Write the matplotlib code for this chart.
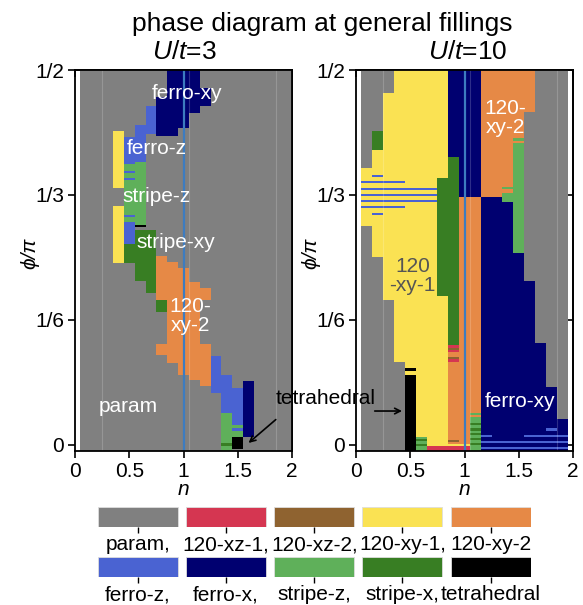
import matplotlib
matplotlib.use('Agg')
import matplotlib.pyplot as plt

plt.rcParams['font.family'] = ['Liberation Sans', 'DejaVu Sans']
plt.rcParams['mathtext.fontset'] = 'custom'
plt.rcParams['mathtext.it'] = 'Liberation Sans:italic'
plt.rcParams['mathtext.rm'] = 'Liberation Sans'

# ---------------- data ----------------
phase_codes = ['P', 'R', 'B', 'Y', 'O', 'Z', 'X', 'S', 'G', 'T']
phase_colors = ['#808080', '#d53651', '#8f6330', '#fae253', '#e68946',
                '#4a63d2', '#000070', '#5fb05a', '#387e23', '#000000']
legend_row1_codes = ['P', 'R', 'B', 'Y', 'O']
legend_row1_labels = ['param,', '120-xz-1,', '120-xz-2,', '120-xy-1,', '120-xy-2']
legend_row2_codes = ['Z', 'X', 'S', 'G', 'T']
legend_row2_labels = ['ferro-z,', 'ferro-x,', 'stripe-z,', 'stripe-x,', 'tetrahedral']

x_ticks = [0, 0.5, 1, 1.5, 2]
x_ticklabels = ['0', '0.5', '1', '1.5', '2']
y_ticks = [0, 1/6, 1/3, 1/2]
y_ticklabels = ['0', '1/6', '1/3', '1/2']

PHI_BOT = -1/120
PHI_TOP = 0.5 + 1/120

n_U3 = [0.1, 0.2, 0.3, 0.4, 0.5, 0.6, 0.7, 0.8, 0.9, 1.0,
        1.1, 1.2, 1.3, 1.4, 1.5, 1.6, 1.7, 1.8, 1.9, 2.0]
n_U10 = [0.1, 0.2, 0.3, 0.4, 0.5, 0.6, 0.7, 0.8, 0.9, 1.0,
         1.1, 1.2, 1.3, 1.4, 1.5, 1.6, 1.7, 1.8, 1.9]

# non-param segments per column: (phase, phi_low, phi_high)
segments_U3 = {
    0.4: [('Y', 0.343, 0.419), ('Y', 0.243, 0.319)],
    0.5: [('Z', 0.375, 0.411), ('S', 0.297, 0.375), ('Z', 0.3623, 0.3650),
          ('Z', 0.3533, 0.3560), ('Z', 0.3045, 0.3072), ('Z', 0.268, 0.297),
          ('G', 0.243, 0.268)],
    0.6: [('Z', 0.377, 0.426), ('S', 0.2933, 0.377), ('T', 0.2907, 0.2933),
          ('G', 0.219, 0.2867)],
    0.7: [('Z', 0.415, 0.452), ('G', 0.202, 0.2867)],
    0.8: [('X', 0.412, 0.464), ('O', 0.193, 0.2515), ('G', 0.177, 0.193),
          ('O', 0.120, 0.1343)],
    0.9: [('X', 0.412, PHI_TOP), ('O', 0.109, 0.2444)],
    1.0: [('X', 0.422, PHI_TOP), ('O', 0.0933, 0.2356)],
    1.1: [('X', 0.442, PHI_TOP), ('O', 0.0867, 0.2178)],
    1.2: [('X', 0.452, 0.476), ('O', 0.193, 0.209), ('O', 0.0778, 0.1343)],
    1.3: [('Z', 0.069, 0.1178)],
    1.4: [('Z', 0.0422, 0.0933), ('S', PHI_BOT, 0.0422), ('G', -0.0022, 0.0022)],
    1.5: [('Z', 0.0267, 0.0756), ('S', 0.0098, 0.0267), ('Z', 0.0187, 0.0220),
          ('T', -0.0058, 0.0098)],
    1.6: [('X', 0.0098, 0.0844)],
}

segments_U10 = {
    0.1: [('Y', 0.2924, 0.3689)],
    0.2: [('G', 0.3933, 0.419), ('Y', 0.251, 0.3933)],
    0.3: [('Y', 0.1933, 0.469)],
    0.4: [('Y', 0.1102, PHI_TOP)],
    0.5: [('Y', 0.1022, PHI_TOP), ('T', 0.0978, 0.1022), ('Y', 0.0933, 0.0978),
          ('T', PHI_BOT, 0.0933)],
    0.6: [('Y', 0.0102, PHI_TOP), ('S', 0.0076, 0.0102), ('G', 0.0049, 0.0076),
          ('S', 0.0009, 0.0049), ('G', -0.0018, 0.0009), ('S', PHI_BOT, -0.0018)],
    0.7: [('Y', -0.0022, PHI_TOP), ('R', PHI_BOT, -0.0022)],
    0.8: [('Y', 0.3553, PHI_TOP), ('G', 0.198, 0.3553), ('Y', -0.0022, 0.198),
          ('R', PHI_BOT, -0.0022)],
    0.9: [('X', 0.3844, PHI_TOP), ('G', 0.1333, 0.3844), ('R', 0.1295, 0.1333),
          ('B', 0.1265, 0.1295), ('R', 0.1235, 0.1265), ('O', 0.117, 0.1235),
          ('B', 0.1145, 0.117), ('R', 0.1105, 0.1145), ('O', 0.0067, 0.1105),
          ('B', 0.0036, 0.0067), ('O', 0.0013, 0.0036), ('Y', -0.0013, 0.0013),
          ('R', PHI_BOT, -0.0013)],
    1.0: [('X', 0.331, PHI_TOP), ('O', 0.0013, 0.331), ('Y', -0.0013, 0.0013),
          ('R', PHI_BOT, -0.0013)],
    1.1: [('X', 0.331, PHI_TOP), ('O', 0.0422, 0.331), ('S', 0.0395, 0.0422),
          ('O', 0.0365, 0.0395), ('S', PHI_BOT, 0.0365),
          ('G', 0.0258, 0.0289), ('G', 0.0190, 0.0222), ('G', 0.0124, 0.0156),
          ('G', 0.0058, 0.0089), ('G', -0.0009, 0.0022)],
    1.2: [('O', 0.331, PHI_TOP), ('X', PHI_BOT, 0.331)],
    1.3: [('O', 0.331, PHI_TOP), ('X', PHI_BOT, 0.331)],
    1.4: [('O', 0.3436, PHI_TOP), ('S', 0.3413, 0.3436), ('O', 0.3356, 0.3413),
          ('S', 0.3236, 0.3356), ('X', PHI_BOT, 0.3236)],
    1.5: [('O', 0.4093, PHI_TOP), ('S', 0.4057, 0.4093), ('O', 0.4022, 0.4057),
          ('S', 0.2560, 0.4022), ('X', PHI_BOT, 0.2560)],
    1.6: [('O', 0.444, PHI_TOP), ('X', PHI_BOT, 0.2187)],
    1.7: [('X', PHI_BOT, 0.1356)],
    1.8: [('X', PHI_BOT, 0.0764)],
    1.9: [('X', PHI_BOT, 0.0347)],
}

# thin ferro-z stripes in U/t=10 panel: (phi centre, columns)
stripe_half = 0.0014
stripes_U10 = [
    (0.3583, [0.2]),
    (0.3500, [0.1, 0.2, 0.3, 0.4]),
    (0.3417, [0.1, 0.2, 0.3, 0.4, 0.5, 0.6, 0.7]),
    (0.3333, [0.1, 0.2, 0.3, 0.4, 0.5, 0.6, 0.7]),
    (0.3250, [0.1, 0.2, 0.3, 0.4, 0.5, 0.6, 0.7]),
    (0.3167, [0.1, 0.2, 0.3, 0.4]),
    (0.3083, [0.2]),
    (0.0204, [1.8]),
    (0.0117, [1.2, 1.6, 1.7, 1.8, 1.9]),
    (0.0038, [1.2, 1.3, 1.4, 1.5, 1.6, 1.7, 1.8, 1.9]),
    (-0.0038, [1.2, 1.3, 1.4, 1.5, 1.6, 1.7, 1.8, 1.9]),
]

color_of = dict(zip(phase_codes, phase_colors))
COL_W = 0.1

# ---------------- figure ----------------
W, H = 583, 605
fig = plt.figure(figsize=(W / 100, H / 100), dpi=100)

def fx(px):
    return px / W

def fy(py):
    return 1 - py / H

ax_l = fig.add_axes([fx(75), fy(451), fx(217), (451 - 70) / H])
ax_r = fig.add_axes([fx(356), fy(451), fx(217), (451 - 70) / H])


def draw_panel(ax, ncols, segs, stripes):
    for n in ncols:
        ax.bar(n, PHI_TOP - PHI_BOT, bottom=PHI_BOT, width=COL_W,
               color=color_of['P'], linewidth=0, antialiased=False)
        for code, lo, hi in segs.get(n, []):
            ax.bar(n, hi - lo, bottom=lo, width=COL_W, color=color_of[code],
                   linewidth=0, antialiased=False)
    for phi, cols in stripes:
        for n in cols:
            ax.bar(n, 2 * stripe_half, bottom=phi - stripe_half, width=COL_W,
                   color=color_of['Z'], linewidth=0, antialiased=False)
    for xv in (0.25, 1.05, 1.85):
        ax.axvline(xv, color='white', alpha=0.18, lw=0.8)
    ax.axvline(1.0, color='#3d7cc0', lw=1.6)
    ax.set_xlim(0, 2)
    ax.set_ylim(PHI_BOT, 0.5)
    ax.set_xticks(x_ticks)
    ax.set_xticklabels(x_ticklabels)
    ax.set_yticks(y_ticks)
    ax.set_yticklabels(y_ticklabels)
    ax.tick_params(labelsize=15, length=5, width=1.2, direction='out',
                   top=False, right=False, pad=3)
    sx = ax.secondary_xaxis('top')
    sx.set_xticks(x_ticks)
    sx.tick_params(direction='in', length=5, width=1.2, labeltop=False)
    sy = ax.secondary_yaxis('right')
    sy.set_yticks(y_ticks)
    sy.tick_params(direction='in', length=5, width=1.2, labelright=False)
    for s in list(ax.spines.values()) + [sx.spines['top'], sy.spines['right']]:
        s.set_linewidth(1.3)
    ax.set_xlabel('n', fontsize=15, fontstyle='italic')
    ax.xaxis.set_label_coords(0.5, -0.075)
    ax.set_ylabel('ϕ/π', fontsize=15, fontstyle='italic')
    ax.yaxis.set_label_coords(-0.165, 0.52)


draw_panel(ax_l, n_U3, segments_U3, [])
draw_panel(ax_r, n_U10, segments_U10, stripes_U10)

# titles
fig.text(fx(322), fy(31), 'phase diagram at general fillings', ha='center',
         va='baseline', fontsize=19)
fig.text(fx(184), fy(59), r'$U/t$=3', ha='center', va='baseline', fontsize=19)
fig.text(fx(468), fy(59), r'$U/t$=10', ha='center', va='baseline', fontsize=19)

# panel annotations (left)
tw = dict(color='white', fontsize=15, ha='center', va='center')
ax_l.text(1.03, 0.4687, 'ferro-xy', **tw)
ax_l.text(0.75, 0.395, 'ferro-z', **tw)
ax_l.text(0.75, 0.331, 'stripe-z', **tw)
ax_l.text(0.93, 0.27, 'stripe-xy', **tw)
ax_l.text(1.06, 0.172, '120-\nxy-2', linespacing=1.0, **tw)
ax_l.text(0.49, 0.051, 'param', **tw)

# single 'tetrahedral' label shared by both panels, with one arrow into each
fig.text(fx(326), fy(399), 'tetrahedral', fontsize=15, ha='center', va='center',
         color='black', zorder=10)
ax_l.annotate('', xy=(1.58, 0.0), xytext=(1.87, 0.036),
              arrowprops=dict(arrowstyle='->', color='black', lw=1.2))
ax_r.annotate('', xy=(0.45, 0.045), xytext=(0.147, 0.045),
              arrowprops=dict(arrowstyle='->', color='black', lw=1.2),
              annotation_clip=False)

# panel annotations (right)
ax_r.text(1.38, 0.436, '120-\nxy-2', linespacing=1.0, **tw)
ax_r.text(0.52, 0.2247, '120\n-xy-1', linespacing=1.0, color='#555555',
          fontsize=15, ha='center', va='center')
ax_r.text(1.51, 0.058, 'ferro-xy', **tw)

# legend rows
def legend_row(py_top, codes, labels):
    lax = fig.add_axes([fx(97.7), fy(py_top + 20), fx(433), 20 / H])
    xs = list(range(len(codes)))
    lax.bar(xs, [1] * len(codes), width=0.906, bottom=0,
            color=[color_of[c] for c in codes], edgecolor='#dddddd', linewidth=0.6)
    lax.set_xlim(-0.453, len(codes) - 1 + 0.453)
    lax.set_ylim(0, 1)
    lax.set_xticks(xs)
    lax.set_xticklabels(labels)
    lax.set_yticks([])
    lax.tick_params(axis='x', length=4, width=1, labelsize=15, pad=2)
    for s in lax.spines.values():
        s.set_visible(False)


legend_row(507, legend_row1_codes, legend_row1_labels)
legend_row(557, legend_row2_codes, legend_row2_labels)

fig.savefig('out.png', dpi=100)
